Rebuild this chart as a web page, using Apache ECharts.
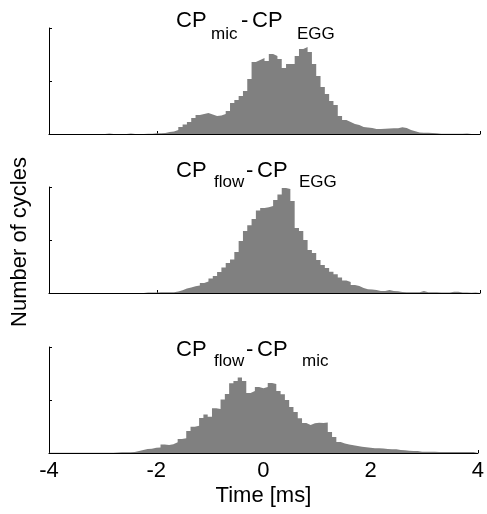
<!DOCTYPE html>
<html><head><meta charset="utf-8">
<script src="https://cdn.jsdelivr.net/npm/echarts@6/dist/echarts.min.js"></script>
<style>html,body{margin:0;padding:0;background:#fff}#c{width:487px;height:514px}</style>
</head><body><div id="c"></div>
<script>
// Histogram bins: left edge of first bin and bin width (ms)
const binStart = -4;
const binWidth = 0.08;
const xTickValues = [-4, -2, 0, 2, 4];
const yMax = 106;

// Panel 1: CP_mic - CP_EGG (counts per bin, arbitrary units, axis top = 106)
const micMinusEgg = [
  0,0,0,0,0,0,0,0,0,0,0,0,0,0.5,0,0,0,0,0.5,0,0,0,0.3,0.3,
  0.7,0.7,1,2,2.5,4,7,9.5,12,16,19,20,21,19.5,18,18.5,
  20,23,31,34,38,43,55,72,74,76,73,80,78,75,66,70,70,78,85,87,
  82,70,58,47,40,33,29,18,14,12,10,9,7,6.5,6,5,5,5.3,5.5,5.7,
  5.8,6.7,6,4,2.7,1.5,1.3,1.2,1,0.8,0.3,0.3,0.3,0.3,0.3,0.3,0.6,0,0,0
];
// Panel 2: CP_flow - CP_EGG
const flowMinusEgg = [
  0,0,0,0,0,0,0,0,0,0,0,0,0,0,0,0,0,0,0,0,0,0,0.5,0.5,0.5,
  0.7,0.7,0.7,0.7,1.5,2.7,4.5,5.5,6.7,7.5,10,11.5,14.5,17,21,
  25.5,30,33.5,41,52,62,67.7,74,82.5,85,85.7,87,93,98.5,105,104,92,65,62,53,
  43,40,33,28,25,21.3,18.7,15.5,12.5,11,8,7,5,3.7,3.5,3,2,2,3,2,
  1.8,1,0.7,0.7,0.7,0.7,2,0.7,0.7,0.7,0.5,0.5,0.5,1.3,1.3,0.5,0.5,0.3,0.5,0.3
];
// Panel 3: CP_flow - CP_mic
const flowMinusMic = [
  0.3,0.3,0.3,0.3,0.3,0.3,0.3,0.3,0.3,0.3,0.3,0.3,0.3,0.3,0.3,0.5,0.7,0.7,0.7,1,
  2,3,4,4.3,5.3,5.5,8.5,8,8.7,10.7,14,14.7,22,26.3,27.3,35,38.5,36.3,44.7,44,
  53.5,59,69.7,72,75.5,72,60,62,66,64.7,66,70,69,62,58.7,53,46,41,34.7,30,
  28,29.7,30.3,30,30.5,21,16,11,9.5,8.5,7.7,7,6.3,5.8,5.3,4.7,4.7,4.5,4,3.7,
  3.7,3,2.7,2.3,2,2,1.3,1.3,1.3,1.2,1,1,1,1,1,1,1,1,1,0.8
];

const panels = [
  { values: micMinusEgg, title: [['CP','b',176],['mic','s',211],['-','b',241],['CP','b',252],['EGG','s',297]], base: 29, sub: 40 },
  { values: flowMinusEgg, title: [['CP','b',176],['flow','s',214],['-','b',246],['CP','b',257],['EGG','s',299]], base: 178.5, sub: 188.5 },
  { values: flowMinusMic, title: [['CP','b',176],['flow','s',214],['-','b',246],['CP','b',257],['mic','s',302]], base: 357.5, sub: 367 }
];
const gridTops = [28, 187, 347];
const FONT = 'Liberation Sans, Arial, Helvetica, sans-serif';
const BIG = 22, SMALL = 17;

function stepData(vals) {
  const d = vals.map((v, i) => [binStart + i * binWidth, v]);
  d.push([binStart + vals.length * binWidth, vals[vals.length - 1]]);
  return d;
}

const grid = [], xAxis = [], yAxis = [], series = [], graphic = [];
panels.forEach((p, k) => {
  grid.push({ left: 49, width: 431, top: gridTops[k], height: 106 });
  xAxis.push({
    gridIndex: k, type: 'value', min: -4, max: 4, interval: 2,
    axisLine: { show: true, onZero: false, lineStyle: { color: '#000', width: 1.2 } },
    axisTick: { show: true, inside: true, length: 3, lineStyle: { color: '#000' } },
    axisLabel: { show: k === 2, margin: 7, fontSize: BIG, color: '#000', fontFamily: FONT },
    splitLine: { show: false },
    name: k === 2 ? 'Time [ms]' : '',
    nameLocation: 'middle', nameGap: 32,
    nameTextStyle: { fontSize: BIG, color: '#000', fontFamily: FONT }
  });
  yAxis.push({
    gridIndex: k, type: 'value', min: 0, max: yMax, interval: yMax / 2,
    axisLine: { show: true, onZero: false, lineStyle: { color: '#000', width: 1 } },
    axisTick: { show: true, inside: true, length: 3, lineStyle: { color: '#000' } },
    axisLabel: { show: false },
    splitLine: { show: false }
  });
  series.push({
    type: 'line', xAxisIndex: k, yAxisIndex: k, step: 'end', symbol: 'none',
    lineStyle: { width: 0 }, areaStyle: { color: '#808080', opacity: 1 },
    data: stepData(p.values), silent: true
  });
  p.title.forEach(([t, kind, x]) => {
    const big = kind === 'b';
    const size = big ? BIG : SMALL;
    const baseline = big ? p.base : p.sub;
    graphic.push({
      type: 'text', x: x, y: baseline - 0.35 * size,
      style: { text: t, font: size + 'px ' + FONT, fill: '#000', align: 'left', verticalAlign: 'middle' }
    });
  });
});
graphic.push({
  type: 'text', x: 20, y: 242, rotation: Math.PI / 2,
  style: { text: 'Number of cycles', font: BIG + 'px ' + FONT, fill: '#000', align: 'center', verticalAlign: 'middle' }
});

const chart = echarts.init(document.getElementById('c'), null, { renderer: 'canvas' });
chart.setOption({ animation: false, backgroundColor: '#fff', grid, xAxis, yAxis, series, graphic });
</script>
</body></html>
